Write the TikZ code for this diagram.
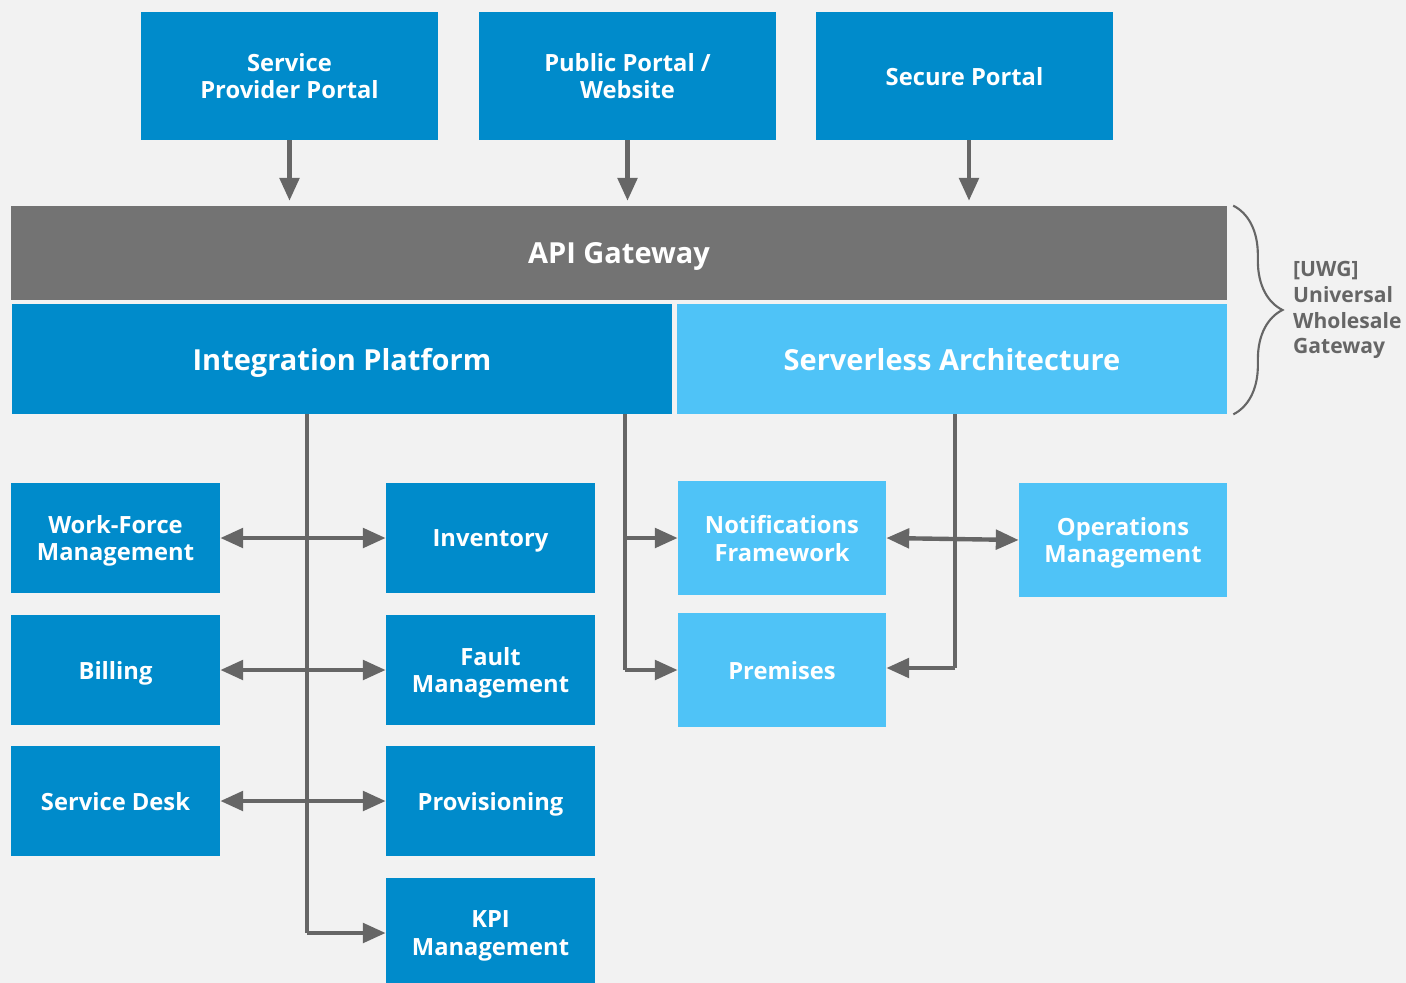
\documentclass[tikz,border=0pt]{standalone}
\usepackage{fontspec}
\setmainfont{Open Sans}
\usetikzlibrary{arrows.meta,positioning,calc,decorations.pathreplacing}
\definecolor{uwgBlue}{HTML}{008BCB}
\definecolor{uwgSky}{HTML}{4FC3F7}
\definecolor{uwgBar}{HTML}{737373}
\definecolor{uwgLine}{HTML}{666666}
\definecolor{uwgBack}{HTML}{F2F2F2}

\begin{document}
\begin{tikzpicture}[x=0.02cm, y=-0.02cm,
          boxBase/.style={rectangle, inner sep=0pt, text depth=0pt, text=white, align=center, font=\fontsize{13.5}{15.9}\selectfont\bfseries},
          boxPortal/.style={boxBase, fill=uwgBlue, minimum width=5.94cm, minimum height=2.56cm},
          boxGate/.style={boxBase, fill=uwgBar, minimum width=24.32cm, minimum height=1.88cm, font=\fontsize{16.5}{19}\selectfont\bfseries},
          boxLayer/.style={boxBase, minimum height=2.2cm, font=\fontsize{16.5}{19}\selectfont\bfseries},
          boxSys/.style={boxBase, fill=uwgBlue, minimum width=4.18cm, minimum height=2.2cm},
          boxSvc/.style={boxBase, fill=uwgSky, minimum width=4.16cm, minimum height=2.28cm},
          flow/.style={-{Triangle[length=13pt, width=11pt]}, line width=2.5pt, draw=uwgLine},
          biflow/.style={{Triangle[length=13pt, width=11pt]}-{Triangle[length=13pt, width=11pt]}, line width=2.5pt, draw=uwgLine},
          busline/.style={line width=2.5pt, draw=uwgLine},
          braceline/.style={decorate, decoration={brace, amplitude=28pt}, draw=uwgLine, line width=1.2pt},
          tagText/.style={font=\fontsize{12}{14.7}\selectfont\bfseries, text=uwgLine, align=left}
        ]
          \fill[uwgBack] (0,0) rectangle (1406,983);
          \useasboundingbox (0,0) rectangle (1406,983);

          % portals on top
          \node[boxPortal] (spp) at (289.5,76) {Service\\Provider Portal};
          \node[boxPortal] (ppw) at (627.5,76) {Public Portal /\\Website};
          \node[boxPortal] (sec) at (964.5,76) {Secure Portal};

          % gateway and the two layers under it
          \node[boxGate] (api) at (619,253) {API Gateway};
          \node[boxLayer, fill=uwgBlue, minimum width=13.2cm] (intp) at (342,359) {Integration Platform};
          \node[boxLayer, fill=uwgSky, minimum width=11cm] (srvl) at (952,359) {Serverless Architecture};

          % back-end systems
          \node[boxSys] (wfm) at (115.5,538) {Work-Force\\Management};
          \node[boxSys] (bill) at (115.5,670) {Billing};
          \node[boxSys] (sdesk) at (115.5,801) {Service Desk};
          \node[boxSys] (inv) at (490.5,538) {Inventory};
          \node[boxSys] (fault) at (490.5,670) {Fault\\Management};
          \node[boxSys] (prov) at (490.5,801) {Provisioning};
          \node[boxSys] (kpi) at (490.5,933) {KPI\\Management};

          % serverless services
          \node[boxSvc] (notif) at (782,538) {Notifications\\Framework};
          \node[boxSvc] (prem) at (782,670) {Premises};
          \node[boxSvc] (ops) at (1123,540) {Operations\\Management};

          % portals into the gateway
          \draw[flow, shorten >=2.8pt] (spp.south) -- (spp.south |- api.north);
          \draw[flow, shorten >=2.8pt] (ppw.south) -- (ppw.south |- api.north);
          \draw[flow, shorten >=2.8pt] ($(sec.south)+(4.5,0)$) -- ($(sec.south |- api.north)+(4.5,0)$);

          % buses leaving the layers
          \coordinate (busL) at (307,414);
          \coordinate (busM) at (625,414);
          \coordinate (busR) at (955,414);

          \draw[busline] (busL) -- (busL |- kpi.west);
          \draw[flow] (busL |- kpi.west) -- (kpi.west);
          \draw[biflow] (wfm.east) -- (inv.west);
          \draw[biflow] (bill.east) -- (fault.west);
          \draw[biflow] (sdesk.east) -- (prov.west);

          \draw[busline] (busM) -- (busM |- prem.west);
          \draw[flow] (busM |- notif.west) -- (notif.west);
          \draw[flow] (busM |- prem.west) -- (prem.west);

          \draw[busline] (busR) -- ($(busR |- prem.east)+(0,-2)$);
          \draw[flow] ($(busR |- prem.east)+(0,-2)$) -- ($(prem.east)+(0,-2)$);
          \draw[biflow] (notif.east) -- (ops.west);

          % brace over gateway and layers
          \draw[braceline] ($(api.north east)+(6,0)$) -- ($(srvl.south east)+(6,0)$);
          \node[tagText, anchor=west] (uwg) at (1287,310) {[UWG]\\Universal\\Wholesale\\Gateway};
        \end{tikzpicture}
\end{document}
